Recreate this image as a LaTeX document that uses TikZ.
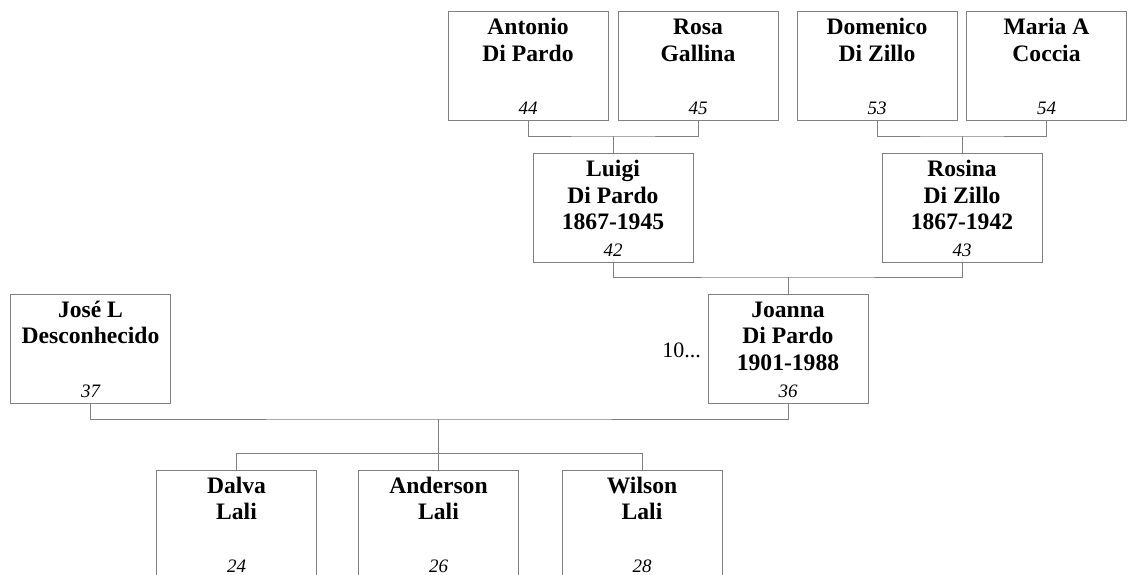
\documentclass[tikz,border=0pt]{standalone}
\usepackage{fontspec}
\setmainfont{Liberation Serif}
\usetikzlibrary{calc}
\definecolor{lin}{RGB}{128,128,128}
\tikzset{
  box/.style={draw=lin, line width=1pt, minimum width=160pt, minimum height=109pt, inner sep=0pt},
  nm/.style={anchor=base, inner sep=0pt, font=\fontsize{23.6}{26.7}\selectfont\bfseries},
  num/.style={anchor=base, inner sep=0pt, font=\fontsize{19}{21}\selectfont\itshape},
  conn/.style={draw=lin, line width=1pt},
  plain/.style={anchor=base east, inner sep=0pt, font=\fontsize{22}{26}\selectfont}
}
\begin{document}
\begin{tikzpicture}[x=1pt, y={(0pt,-1pt)}]
\useasboundingbox (0,0) rectangle (1132,574);
% boxes
\node[box] (a44) at (528,65.5) {};
\node[box] (a45) at (698,65.5) {};
\node[box] (a53) at (877,65.5) {};
\node[box] (a54) at (1046.5,65.5) {};
\node[box] (a42) at (613,207.5) {};
\node[box] (a43) at (962,207.5) {};
\node[box] (a36) at (788,348.5) {};
\node[box] (a37) at (90.5,348.5) {};
\node[box] (a24) at (236.5,524.5) {};
\node[box] (a26) at (438.5,524.5) {};
\node[box] (a28) at (642,524.5) {};
% names
\node[nm] (n44) at ($(a44.north)+(0,24)$) {\begin{tabular}[t]{@{}c@{}}Antonio\\Di Pardo\end{tabular}};
\node[nm] (n45) at ($(a45.north)+(0,24)$) {\begin{tabular}[t]{@{}c@{}}Rosa\\Gallina\end{tabular}};
\node[nm] (n53) at ($(a53.north)+(0,24)$) {\begin{tabular}[t]{@{}c@{}}Domenico\\Di Zillo\end{tabular}};
\node[nm] (n54) at ($(a54.north)+(0,24)$) {\begin{tabular}[t]{@{}c@{}}Maria A\\Coccia\end{tabular}};
\node[nm] (n42) at ($(a42.north)+(0,24)$) {\begin{tabular}[t]{@{}c@{}}Luigi\\Di Pardo\\1867-1945\end{tabular}};
\node[nm] (n43) at ($(a43.north)+(0,24)$) {\begin{tabular}[t]{@{}c@{}}Rosina\\Di Zillo\\1867-1942\end{tabular}};
\node[nm] (n36) at ($(a36.north)+(0,23.5)$) {\begin{tabular}[t]{@{}c@{}}Joanna\\Di Pardo\\1901-1988\end{tabular}};
\node[nm] (n37) at ($(a37.north)+(0,23.5)$) {\begin{tabular}[t]{@{}c@{}}José L\\Desconhecido\end{tabular}};
\node[nm] (n24) at ($(a24.north)+(0,23.5)$) {\begin{tabular}[t]{@{}c@{}}Dalva\\Lali\end{tabular}};
\node[nm] (n26) at ($(a26.north)+(0,23.5)$) {\begin{tabular}[t]{@{}c@{}}Anderson\\Lali\end{tabular}};
\node[nm] (n28) at ($(a28.north)+(0,23.5)$) {\begin{tabular}[t]{@{}c@{}}Wilson\\Lali\end{tabular}};
% numbers
\node[num] (i44) at ($(a44.south)+(0,-6)$) {44};
\node[num] (i45) at ($(a45.south)+(0,-6)$) {45};
\node[num] (i53) at ($(a53.south)+(0,-6)$) {53};
\node[num] (i54) at ($(a54.south)+(0,-6)$) {54};
\node[num] (i42) at ($(a42.south)+(0,-6)$) {42};
\node[num] (i43) at ($(a43.south)+(0,-6)$) {43};
\node[num] (i36) at ($(a36.south)+(0,-6)$) {36};
\node[num] (i37) at ($(a37.south)+(0,-6)$) {37};
\node[num] (i24) at ($(a24.south)+(0,-7.5)$) {24};
\node[num] (i26) at ($(a26.south)+(0,-7.5)$) {26};
\node[num] (i28) at ($(a28.south)+(0,-7.5)$) {28};
% more marker
\node[plain] (more) at (701,357) {10...};
% connectors
\coordinate (j1) at (613,136);
\coordinate (j2) at (962,136);
\coordinate (j3) at (788,277);
\coordinate (j4) at (438.5,419);
\coordinate (j5) at (438.5,453);
\draw[conn] (a44.south) |- (j1) -| (a45.south);
\draw[conn] (j1) -- (a42.north);
\draw[conn] (a53.south) |- (j2) -| (a54.south);
\draw[conn] (j2) -- (a43.north);
\draw[conn] (a42.south) |- (j3) -| (a43.south);
\draw[conn] (j3) -- (a36.north);
\draw[conn] (a37.south) |- (j4) -| (a36.south);
\draw[conn] (j4) -- (j5);
\draw[conn] (j5) -| (a24.north);
\draw[conn] (j5) -| (a28.north);
\draw[conn] (j5) -- (a26.north);
\end{tikzpicture}
\end{document}
